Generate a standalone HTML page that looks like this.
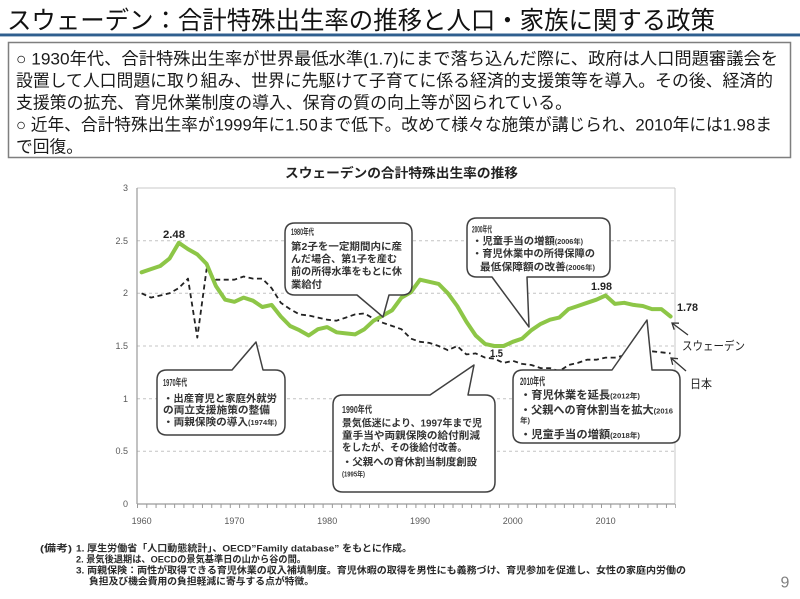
<!DOCTYPE html>
<html lang="ja">
<head>
<meta charset="utf-8">
<title>スウェーデン：合計特殊出生率の推移と人口・家族に関する政策</title>
<style>
  html,body{margin:0;padding:0;background:#fff;}
  svg{display:block;}
  text{font-family:"Liberation Sans","Noto Sans CJK JP",sans-serif;}
</style>
</head>
<body>
<svg width="800" height="599" viewBox="0 0 800 599" xmlns="http://www.w3.org/2000/svg">
  <rect x="0" y="0" width="800" height="599" fill="#ffffff"/>

  <!-- Page title -->
  <text x="7" y="21" font-size="25" fill="#111" dominant-baseline="central" textLength="708" lengthAdjust="spacingAndGlyphs">スウェーデン：合計特殊出生率の推移と人口・家族に関する政策</text>
  <rect x="0" y="33.5" width="800" height="2.5" fill="#2f5f8f"/>
  <rect x="0" y="36" width="800" height="1" fill="#a9bdd1"/>

  <!-- Summary box -->
  <rect x="8.5" y="42.5" width="782" height="115" fill="#fff" stroke="#7f7f7f" stroke-width="1.5"/>
  <g font-size="16.8" fill="#1a1a1a" dominant-baseline="central">
    <text x="16" y="59" textLength="762" lengthAdjust="spacingAndGlyphs">○ 1930年代、合計特殊出生率が世界最低水準(1.7)にまで落ち込んだ際に、政府は人口問題審議会を</text>
    <text x="16" y="81" textLength="757" lengthAdjust="spacingAndGlyphs">設置して人口問題に取り組み、世界に先駆けて子育てに係る経済的支援策等を導入。その後、経済的</text>
    <text x="16" y="103" textLength="556" lengthAdjust="spacingAndGlyphs">支援策の拡充、育児休業制度の導入、保育の質の向上等が図られている。</text>
    <text x="16" y="125" textLength="756" lengthAdjust="spacingAndGlyphs">○ 近年、合計特殊出生率が1999年に1.50まで低下。改めて様々な施策が講じられ、2010年には1.98ま</text>
    <text x="16" y="147" textLength="67" lengthAdjust="spacingAndGlyphs">で回復。</text>
  </g>

  <!-- Chart title -->
  <text x="285" y="173" font-size="13" font-weight="bold" fill="#222" dominant-baseline="central" textLength="233" lengthAdjust="spacingAndGlyphs">スウェーデンの合計特殊出生率の推移</text>

  <!-- Plot frame & grid -->
  <g fill="none">
    <line x1="137" y1="188" x2="675" y2="188" stroke="#c8c8c8" stroke-width="1"/>
    <line x1="675" y1="188" x2="675" y2="504" stroke="#c8c8c8" stroke-width="1"/>
    <g stroke="#c4c4c4" stroke-width="1" stroke-dasharray="3 3">
      <line x1="137" y1="240.7" x2="675" y2="240.7"/>
      <line x1="137" y1="293.3" x2="675" y2="293.3"/>
      <line x1="137" y1="346.0" x2="675" y2="346.0"/>
      <line x1="137" y1="398.7" x2="675" y2="398.7"/>
      <line x1="137" y1="451.3" x2="675" y2="451.3"/>
    </g>
    <line x1="137" y1="188" x2="137" y2="504" stroke="#9a9a9a" stroke-width="1.2"/>
    <line x1="137" y1="504" x2="675" y2="504" stroke="#9a9a9a" stroke-width="1.2"/>
    <line x1="137" y1="506" x2="676" y2="506" stroke="#9a9a9a" stroke-width="4" stroke-dasharray="1 8.28"/>
  </g>

  <!-- Y labels -->
  <g font-size="9" fill="#595959" text-anchor="end" dominant-baseline="central">
    <text x="128" y="188">3</text>
    <text x="128" y="241">2.5</text>
    <text x="128" y="293">2</text>
    <text x="128" y="346">1.5</text>
    <text x="128" y="399">1</text>
    <text x="128" y="451">0.5</text>
    <text x="128" y="504">0</text>
  </g>
  <!-- X labels -->
  <g font-size="9" fill="#595959" text-anchor="middle" dominant-baseline="central">
    <text x="141.6" y="521">1960</text>
    <text x="234.4" y="521">1970</text>
    <text x="327.2" y="521">1980</text>
    <text x="420.0" y="521">1990</text>
    <text x="512.8" y="521">2000</text>
    <text x="605.6" y="521">2010</text>
  </g>

  <!-- Japan (dashed) -->
  <polyline fill="none" stroke="#222" stroke-width="1.8" stroke-dasharray="5 3.5" stroke-linejoin="round"
    points="141.6,293.3 150.9,297.6 160.2,295.5 169.5,293.3 178.8,288.1 188.0,278.6 197.3,337.6 206.6,269.1 215.9,279.7 225.2,279.7 234.4,279.7 243.7,276.5 253.0,278.6 262.3,278.6 271.6,288.1 280.8,302.8 290.1,309.1 299.4,314.4 308.7,315.5 318.0,317.6 327.2,319.7 336.5,320.7 345.8,317.6 355.1,314.4 364.4,313.4 373.6,318.6 382.9,322.8 392.2,326.0 401.5,329.2 410.8,338.6 420.0,341.8 429.3,342.9 438.6,346.0 447.9,350.2 457.2,346.0 466.4,354.4 475.7,353.4 485.0,357.6 494.3,358.7 503.6,362.9 512.8,360.8 522.1,363.9 531.4,365.0 540.7,368.1 550.0,368.1 559.2,371.3 568.5,365.0 577.8,362.9 587.1,359.7 596.4,359.7 605.6,357.6 614.9,357.6 624.2,355.5 633.5,353.4 642.8,354.4 652.0,351.3 661.3,352.3 670.6,353.4"/>

  <!-- Sweden (green) -->
  <polyline fill="none" stroke="#8dc647" stroke-width="4" stroke-linejoin="round" stroke-linecap="round"
    points="141.6,272.3 150.9,269.1 160.2,266.0 169.5,258.6 178.8,242.8 188.0,249.1 197.3,254.4 206.6,263.9 215.9,286.0 225.2,299.7 234.4,301.8 243.7,297.6 253.0,300.7 262.3,307.0 271.6,304.9 280.8,316.5 290.1,326.0 299.4,330.2 308.7,335.5 318.0,329.2 327.2,327.1 336.5,332.3 345.8,333.4 355.1,334.4 364.4,329.2 373.6,320.7 382.9,315.5 392.2,310.2 401.5,297.6 410.8,292.3 420.0,279.7 429.3,281.8 438.6,283.9 447.9,293.3 457.2,306.0 466.4,321.8 475.7,335.5 485.0,343.9 494.3,346.0 503.6,346.0 512.8,341.8 522.1,338.6 531.4,330.2 540.7,323.9 550.0,319.7 559.2,317.6 568.5,309.1 577.8,306.0 587.1,302.8 596.4,299.7 605.6,295.5 614.9,303.9 624.2,302.8 633.5,304.9 642.8,306.0 652.0,309.1 661.3,309.1 670.6,316.5"/>

  <!-- Value labels -->
  <g font-size="11" font-weight="bold" fill="#222" dominant-baseline="central">
    <text x="163" y="235" textLength="22" lengthAdjust="spacingAndGlyphs">2.48</text>
    <text x="591" y="287" textLength="21" lengthAdjust="spacingAndGlyphs">1.98</text>
    <text x="677" y="308" textLength="21" lengthAdjust="spacingAndGlyphs">1.78</text>
    <text x="490" y="354" textLength="13" lengthAdjust="spacingAndGlyphs">1.5</text>
  </g>

  <!-- Series labels + arrows -->
  <g font-size="12" fill="#222" dominant-baseline="central">
    <text x="682" y="346" textLength="63" lengthAdjust="spacingAndGlyphs">スウェーデン</text>
    <text x="690" y="384" textLength="22" lengthAdjust="spacingAndGlyphs">日本</text>
  </g>
  <g fill="none" stroke="#333" stroke-width="1.3">
    <line x1="688" y1="335" x2="672" y2="323"/>
    <path d="M674.2,329.7 L672,323 L679,323.2"/>
    <line x1="686" y1="371" x2="671" y2="358"/>
    <path d="M672.7,364.8 L671,358 L678,358.7"/>
  </g>

  <!-- Callouts -->
  <g fill="#fff" stroke="#404040" stroke-width="1.5" stroke-linejoin="round">
    <path d="M295,223 H402 Q412,223 412,233 V285 Q412,295 402,295 H389 L383,317 L357,295 H295 Q285,295 285,285 V233 Q285,223 295,223 Z"/>
    <path d="M477,218 H600 Q610,218 610,228 V267 Q610,277 600,277 H527 L529,327 L492,277 H477 Q467,277 467,267 V228 Q467,218 477,218 Z"/>
    <path d="M167,370 H232 L256,342 L263,370 H275 Q285,370 285,380 V425 Q285,435 275,435 H167 Q157,435 157,425 V380 Q157,370 167,370 Z"/>
    <path d="M343,395 H430 L474,365 L468,395 H485 Q495,395 495,405 V482 Q495,492 485,492 H343 Q333,492 333,482 V405 Q333,395 343,395 Z"/>
    <path d="M523,370 H612 L647,320 L652,370 H670 Q680,370 680,380 V433 Q680,443 670,443 H523 Q513,443 513,433 V380 Q513,370 523,370 Z"/>
  </g>

  <g font-size="10" fill="#333" font-weight="bold" dominant-baseline="central">
    <!-- 1980 -->
    <text x="291" y="232" font-size="9" textLength="23" lengthAdjust="spacingAndGlyphs">1980年代</text>
    <text x="291" y="247.5" textLength="111" lengthAdjust="spacingAndGlyphs">第2子を一定期間内に産</text>
    <text x="291" y="260" textLength="106" lengthAdjust="spacingAndGlyphs">んだ場合、第1子を産む</text>
    <text x="291" y="272.5" textLength="111" lengthAdjust="spacingAndGlyphs">前の所得水準をもとに休</text>
    <text x="291" y="285.5" textLength="31" lengthAdjust="spacingAndGlyphs">業給付</text>
    <!-- 2000 -->
    <text x="472" y="229.5" font-size="9" textLength="20" lengthAdjust="spacingAndGlyphs">2000年代</text>
    <text x="472" y="242" textLength="111" lengthAdjust="spacingAndGlyphs">・児童手当の増額<tspan font-size="7">(2006年)</tspan></text>
    <text x="472" y="254.5" textLength="123" lengthAdjust="spacingAndGlyphs">・育児休業中の所得保障の</text>
    <text x="480" y="268" textLength="115" lengthAdjust="spacingAndGlyphs">最低保障額の改善<tspan font-size="7">(2006年)</tspan></text>
    <!-- 1970 -->
    <text x="163" y="383.5" textLength="24" lengthAdjust="spacingAndGlyphs">1970年代</text>
    <text x="163" y="399.5" textLength="114" lengthAdjust="spacingAndGlyphs">・出産育児と家庭外就労</text>
    <text x="163" y="411" textLength="107" lengthAdjust="spacingAndGlyphs">の両立支援施策の整備</text>
    <text x="163" y="423" textLength="114" lengthAdjust="spacingAndGlyphs">・両親保険の導入<tspan font-size="7">(1974年)</tspan></text>
    <!-- 1990 -->
    <text x="342" y="410.5" textLength="30" lengthAdjust="spacingAndGlyphs">1990年代</text>
    <text x="342" y="424" textLength="140" lengthAdjust="spacingAndGlyphs">景気低迷により、1997年まで児</text>
    <text x="342" y="436.5" textLength="138" lengthAdjust="spacingAndGlyphs">童手当や両親保険の給付削減</text>
    <text x="342" y="448.5" textLength="125" lengthAdjust="spacingAndGlyphs">をしたが、その後給付改善。</text>
    <text x="342" y="463" textLength="135" lengthAdjust="spacingAndGlyphs">・父親への育休割当制度創設</text>
    <text x="342" y="475" font-size="7" textLength="23" lengthAdjust="spacingAndGlyphs">(1995年)</text>
    <!-- 2010 -->
    <text x="520" y="382" font-size="11" textLength="25" lengthAdjust="spacingAndGlyphs">2010年代</text>
    <text x="520" y="395.5" font-size="11" textLength="120" lengthAdjust="spacingAndGlyphs">・育児休業を延長<tspan font-size="7.5">(2012年)</tspan></text>
    <text x="520" y="410.5" font-size="11" textLength="153" lengthAdjust="spacingAndGlyphs">・父親への育休割当を拡大<tspan font-size="7.5">(2016</tspan></text>
    <text x="520" y="420.5" font-size="7.5" textLength="10" lengthAdjust="spacingAndGlyphs">年)</text>
    <text x="520" y="435" font-size="11" textLength="120" lengthAdjust="spacingAndGlyphs">・児童手当の増額<tspan font-size="7.5">(2018年)</tspan></text>
  </g>

  <!-- Footnotes -->
  <g font-size="9.5" fill="#2a2a2a" font-weight="bold" dominant-baseline="central">
    <text x="40" y="549" textLength="32" lengthAdjust="spacingAndGlyphs">(備考)</text>
    <text x="76" y="549" textLength="336" lengthAdjust="spacingAndGlyphs">1. 厚生労働省「人口動態統計」、OECD”Family database” をもとに作成。</text>
    <text x="76" y="560" textLength="230" lengthAdjust="spacingAndGlyphs">2. 景気後退期は、OECDの景気基準日の山から谷の間。</text>
    <text x="76" y="571" textLength="610" lengthAdjust="spacingAndGlyphs">3. 両親保険：両性が取得できる育児休業の収入補填制度。育児休暇の取得を男性にも義務づけ、育児参加を促進し、女性の家庭内労働の</text>
    <text x="89" y="582" textLength="225" lengthAdjust="spacingAndGlyphs">負担及び機会費用の負担軽減に寄与する点が特徴。</text>
  </g>
  <text x="785" y="583" font-size="16" fill="#808080" text-anchor="middle" dominant-baseline="central">9</text>
</svg>
</body>
</html>
